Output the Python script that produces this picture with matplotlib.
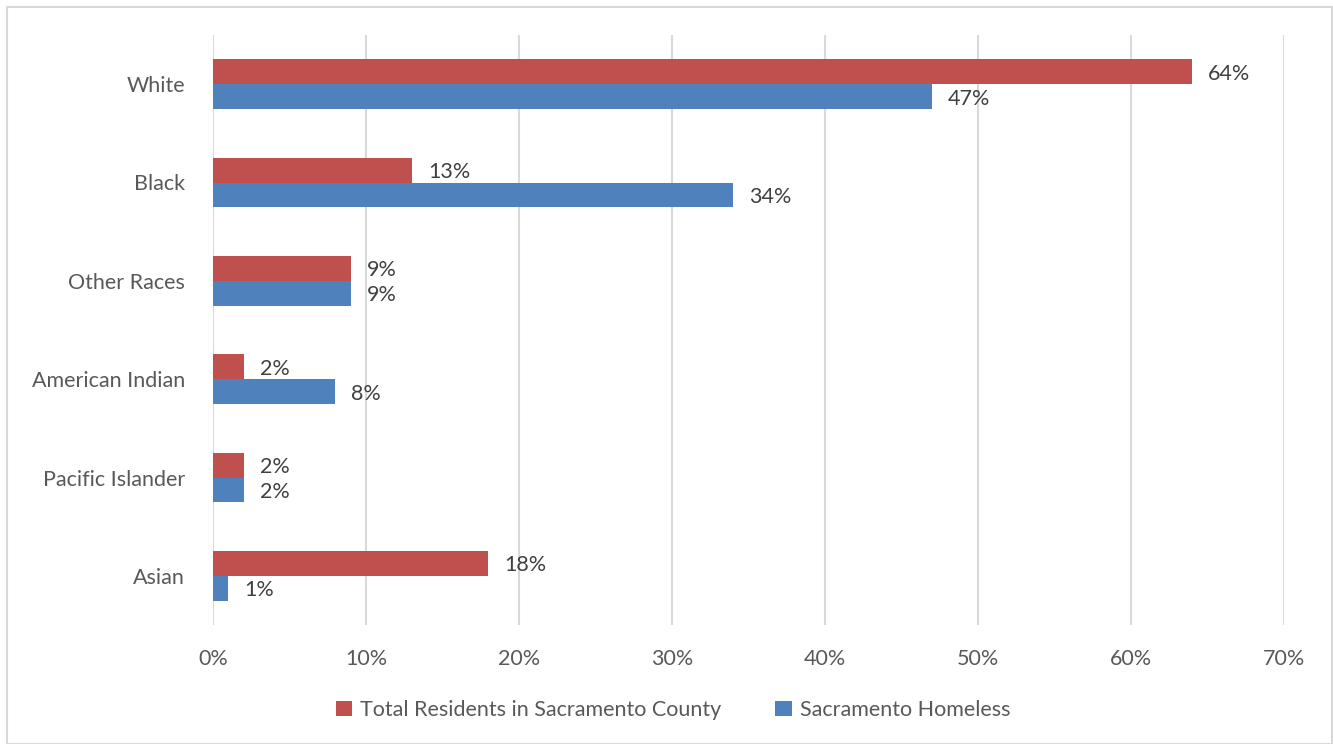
import numpy as np
import matplotlib.pyplot as plt
from matplotlib.patches import Rectangle

# data (bottom to top as drawn)
categories = ["Asian", "Pacific Islander", "American Indian", "Other Races", "Black", "White"]
residents = [18, 2, 2, 9, 13, 64]
homeless = [1, 2, 8, 9, 34, 47]
xticks = [0, 10, 20, 30, 40, 50, 60, 70]

red = "#C0504D"
blue = "#4F81BD"
txt = "#595959"
fs = 15.5
plt.rcParams["font.family"] = ["Lato", "DejaVu Sans"]

fig = plt.figure(figsize=(13.33, 7.44), dpi=100)
ax = fig.add_axes([213 / 1333, 1 - 625 / 744, (1284 - 213) / 1333, (625 - 35) / 744])

# outer chart border
fig.patches.append(Rectangle((7 / 1333, 0), 1 - 8 / 1333, 1 - 7 / 744, transform=fig.transFigure,
                             fill=False, edgecolor="#D9D9D9", linewidth=1.5))

y = np.arange(len(categories))
h = 0.254
ax.barh(y + h / 2, residents, height=h, color=red, label="Total Residents in Sacramento County", zorder=3)
ax.barh(y - h / 2, homeless, height=h, color=blue, label="Sacramento Homeless", zorder=3)

# labels sit a touch below bar centre, like Excel
dy = 0.02
for yi, v in zip(y, residents):
    ax.text(v + 1.05, yi + h / 2 - dy, f"{v}%", va="center", ha="left", fontsize=fs, color="#404040")
for yi, v in zip(y, homeless):
    ax.text(v + 1.05, yi - h / 2 - dy, f"{v}%", va="center", ha="left", fontsize=fs, color="#404040")

ax.set_xlim(0, 70)
ax.set_ylim(-0.5, 5.5)
ax.set_xticks(xticks)
ax.set_xticklabels([f"{t}%" for t in xticks])
ax.set_yticks(y)
ax.set_yticklabels(categories)
ax.tick_params(axis="both", length=0, labelsize=fs, labelcolor=txt)
ax.tick_params(axis="x", pad=17)
ax.tick_params(axis="y", pad=20)
ax.grid(axis="x", color="#D9D9D9", linewidth=1.5, zorder=0)
for s in ax.spines.values():
    s.set_visible(False)

fig.legend(*ax.get_legend_handles_labels(), loc="center", bbox_to_anchor=(0.505, 1 - 710 / 744),
           ncol=2, frameon=False, fontsize=fs, labelcolor=txt, handlelength=0.75, handleheight=0.75,
           handletextpad=0.4, columnspacing=2.5)

fig.savefig("out.png", dpi=100)
